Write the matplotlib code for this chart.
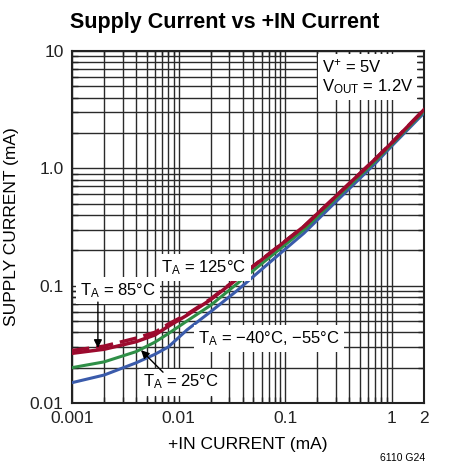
import matplotlib
matplotlib.use('Agg')
import matplotlib.pyplot as plt
from matplotlib.ticker import FixedLocator, NullFormatter, LogLocator

plt.rcParams['font.family'] = ['Liberation Sans', 'DejaVu Sans']
plt.rcParams['mathtext.fontset'] = 'custom'
plt.rcParams['mathtext.rm'] = 'Liberation Sans'

# data (mA)
in_current = [0.001, 0.002, 0.004, 0.006, 0.008, 0.012, 0.02, 0.035, 0.07, 0.15, 0.3, 0.7, 1.0, 2.0]
supply_125 = [0.0265, 0.0287, 0.0333, 0.038, 0.045, 0.056, 0.076, 0.113, 0.185, 0.32, 0.58, 1.2, 1.65, 3.15]
supply_85 = [0.028, 0.0305, 0.0357, 0.040, 0.047, 0.057, 0.077, 0.114, 0.186, 0.32, 0.58, 1.2, 1.65, 3.15]
supply_25 = [0.020, 0.0224, 0.0274, 0.033, 0.039, 0.050, 0.068, 0.103, 0.172, 0.30, 0.555, 1.15, 1.6, 3.05]
supply_m40 = [0.0149, 0.0173, 0.022, 0.026, 0.030, 0.042, 0.060, 0.090, 0.155, 0.28, 0.52, 1.1, 1.55, 2.95]

x_ticks = [0.001, 0.01, 0.1, 1, 2]
x_ticklabels = ['0.001', '0.01', '0.1', '1', '2']
y_ticks = [0.01, 0.1, 1, 10]
y_ticklabels = ['0.01', '0.1', '1.0', '10']

red = '#9c0a2e'
green = '#2f8f47'
blue = '#3a5bab'

fig = plt.figure(figsize=(4.5, 4.72), dpi=100)
ax = fig.add_axes([0.16, 0.1462, 0.782, 0.746])
ax.set_xscale('log')
ax.set_yscale('log')
ax.set_xlim(0.001, 2)
ax.set_ylim(0.01, 10)

ax.xaxis.set_major_locator(FixedLocator(x_ticks))
ax.set_xticklabels(x_ticklabels)
ax.xaxis.set_minor_locator(LogLocator(base=10, subs=range(2, 10), numticks=20))
ax.xaxis.set_minor_formatter(NullFormatter())
ax.yaxis.set_major_locator(FixedLocator(y_ticks))
ax.set_yticklabels(y_ticklabels)
ax.yaxis.set_minor_locator(LogLocator(base=10, subs=range(2, 10), numticks=20))
ax.yaxis.set_minor_formatter(NullFormatter())

ax.grid(True, which='both', color='#2a2a2a', linewidth=1.0)
ax.tick_params(which='both', direction='in', top=True, right=True, labelsize=12.5, pad=6, colors='#222222')
ax.tick_params(which='major', length=0)
ax.tick_params(which='minor', length=4, width=1)
for s in ax.spines.values():
    s.set_linewidth(1.5)
    s.set_color('#222222')

ax.plot(in_current, supply_m40, color=blue, lw=2.2, zorder=3)
ax.plot(in_current, supply_25, color=green, lw=2.2, zorder=3)
ax.plot(in_current, supply_125, color=red, lw=2.5, zorder=4)
ax.plot(in_current, supply_85, color=red, lw=2.5, ls=(0, (5, 2)), zorder=4)

box = dict(facecolor='white', edgecolor='none', pad=3)
ax.text(0.22, 8.9, '$\\mathregular{V^{+}}$ = 5V\n$\\mathregular{V_{OUT}}$ = 1.2V',
        fontsize=12, va='top', ha='left', bbox=box, zorder=6, linespacing=1.15)
ax.text(0.0069, 0.13, '$\\mathregular{T_A}$ = 125°C', fontsize=12, va='baseline', bbox=box, zorder=6)
ax.text(0.00119, 0.0832, '$\\mathregular{T_A}$ = 85°C', fontsize=12, va='baseline', bbox=box, zorder=6)
ax.text(0.0153, 0.0322, '$\\mathregular{T_A}$ = −40°C, −55°C', fontsize=12, va='baseline', bbox=box, zorder=6)
ax.text(0.00467, 0.01374, '$\\mathregular{T_A}$ = 25°C', fontsize=12, va='baseline', bbox=box, zorder=6)

arrow = dict(arrowstyle='-|>', color='black', lw=1, mutation_scale=12, shrinkA=0, shrinkB=0)
ax.annotate('', xy=(0.00175, 0.0294), xytext=(0.00175, 0.0724), arrowprops=arrow, zorder=7)
ax.annotate('', xy=(0.00444, 0.0282), xytext=(0.00714, 0.0183), arrowprops=arrow, zorder=7)

ax.set_xlabel('+IN CURRENT (mA)', fontsize=12.5, labelpad=8)
ax.set_ylabel('SUPPLY CURRENT (mA)', fontsize=12.5, labelpad=8)

fig.text(0.5, 0.953, 'Supply Current vs +IN Current', ha='center', va='center', fontsize=15.5, fontweight='bold')
fig.text(0.945, 0.02, '6110 G24', ha='right', va='bottom', fontsize=7.5)

fig.savefig('out.png', dpi=100)
